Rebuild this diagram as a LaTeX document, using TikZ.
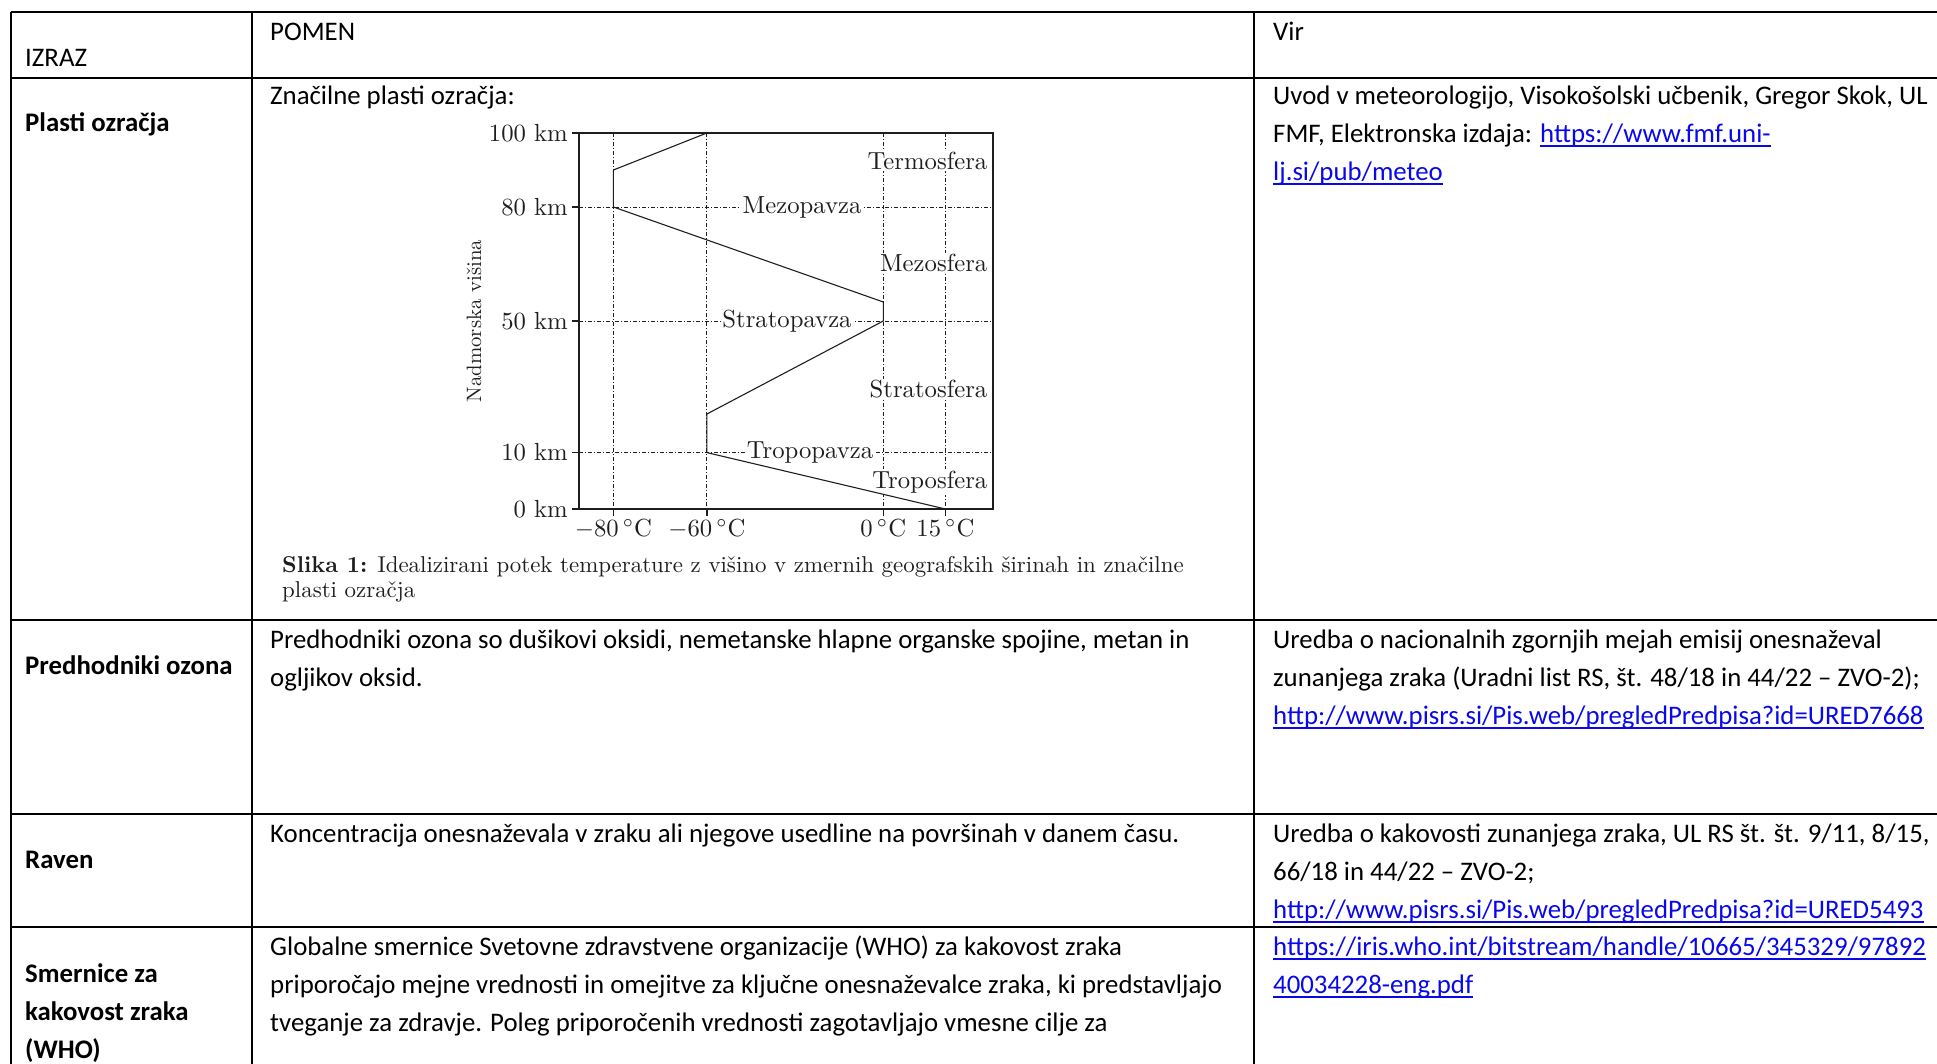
\documentclass[tikz,border=0pt]{standalone}
\usepackage{fontspec}
\newfontfamily\tabfont{Carlito}
\usepackage{xcolor}
\usepackage{graphicx}
\definecolor{linkblue}{RGB}{8,8,235}
\definecolor{chartgray}{RGB}{30,30,30}
\newcommand\lnk[1]{\leavevmode{\color{linkblue}\setbox0=\hbox{#1}\rlap{\rule[-0.17em]{\wd0}{0.065em}}\box0}}
\newcommand\cmt[2][2.47]{\scalebox{#1}{\fontsize{10}{12}\selectfont #2}}
\begin{document}
\begin{tikzpicture}[x=1pt,y=-1pt,
  tline/.style={line width=1.4pt, black},
  txt/.style={font=\tabfont\fontsize{26.8}{37.8}\selectfont, anchor=base west, inner sep=0pt, text=black},
  btxt/.style={font=\tabfont\bfseries\fontsize{26.8}{37.8}\selectfont, anchor=base west, inner sep=0pt, text=black},
  gridln/.style={line width=0.9pt, chartgray, dash pattern=on 4pt off 2pt on 1pt off 2pt},
  chartframe/.style={line width=1.3pt, chartgray},
  prof/.style={line width=1.1pt, chartgray, line join=round},
  clab/.style={fill=white, inner sep=1.5pt, text=chartgray},
  tlab/.style={inner sep=0pt, text=chartgray},
  captxt/.style={anchor=base west, inner sep=0pt, text=chartgray}
]
\useasboundingbox (0,0) rectangle (1937,1064);
% ---------------- table grid
\draw[tline] (11,12) -- (1937,12);
\draw[tline] (11,78) -- (1937,78);
\draw[tline] (11,620) -- (1937,620);
\draw[tline] (11,814) -- (1937,814);
\draw[tline] (11,927) -- (1937,927);
\draw[tline] (11,12) -- (11,1064);
\draw[tline] (252,12) -- (252,1064);
\draw[tline] (1254,12) -- (1254,1064);
% ---------------- header
\node[txt] (hizraz) at (25,66.5) {IZRAZ};
\node[txt] (hpomen) at (270,40.5) {POMEN};
\node[txt] (hvir) at (1273,40.5) {Vir};
% ---------------- row 1
\node[btxt] (l1) at (25,131.5) {Plasti ozračja};
\node[txt] (p1) at (270,104.5) {Značilne plasti ozračja:};
\node[txt] (v1a) at (1273,104.5) {Uvod v meteorologijo, Visokošolski učbenik, Gregor Skok, UL};
\node[txt] (v1b) at (1273,142.3) {FMF, Elektronska izdaja: \lnk{https://www.fmf.uni-}};
\node[txt] (v1c) at (1273,180.1) {\lnk{lj.si/pub/meteo}};
% ---------------- chart
\def\cL{579}\def\cR{993}\def\cT{133}\def\cB{509}
\def\xA{613.4}\def\xB{706.9}\def\xC{883.3}\def\xD{945.4}
\def\yE{207}\def\yF{321}\def\yG{452.6}
\foreach \xx in {\xA,\xB,\xC,\xD} \draw[gridln] (\xx,\cT) -- (\xx,\cB);
\foreach \yy in {\yE,\yF,\yG} \draw[gridln] (\cL,\yy) -- (\cR,\yy);
\node[clab, anchor=east] (termo) at (989,161) {\cmt{Termosfera}};
\node[clab] (mezop) at (802,\yE) {\cmt{Mezopavza}};
\node[clab, anchor=east] (mezos) at (989,263) {\cmt{Mezosfera}};
\node[clab] (stratop) at (787,\yF) {\cmt{Stratopavza}};
\node[clab, anchor=east] (stratos) at (989,389) {\cmt{Stratosfera}};
\node[clab] (tropop) at (810,\yG) {\cmt{Tropopavza}};
\node[clab, anchor=east] (tropos) at (989,482) {\cmt{Troposfera}};
\coordinate (q0) at (\xD,\cB);
\coordinate (q1) at (\xB,\yG);
\coordinate (q2) at (\xB,414);
\coordinate (q3) at (\xC,\yF);
\coordinate (q4) at (\xC,302);
\coordinate (q5) at (\xA,\yE);
\coordinate (q6) at (\xA,170);
\coordinate (q7) at (\xB,\cT);
\draw[prof] (q0) -- (q1) -- (q2) -- (q3) -- (q4) -- (q5) -- (q6) -- (q7);
\draw[chartframe] (\cL,\cT) rectangle (\cR,\cB);
\foreach \yy/\lab [count=\i] in {\cT/100 km,\yE/80 km,\yF/50 km,\yG/10 km,\cB/0 km}{
  \draw[chartframe] (572,\yy) -- (\cL,\yy);
  \node[tlab, anchor=east] (yl\i) at (568,\yy) {\cmt{\lab}};
}
\foreach \xx/\lab [count=\i] in {\xA/$-80\,^\circ$C,\xB/$-60\,^\circ$C,\xC/0\,$^\circ$C,\xD/15\,$^\circ$C}{
  \draw[chartframe] (\xx,\cB) -- (\xx,516);
  \node[tlab, anchor=north] (xl\i) at (\xx,519) {\cmt{\lab}};
}
\node[tlab, rotate=90] (ylab) at (474,321) {\cmt[2.08]{Nadmorska višina}};
\node[captxt] (cap1) at (282,572.5) {\cmt[2.29]{\textbf{Slika 1:} Idealizirani potek temperature z višino v zmernih geografskih širinah in značilne}};
\node[captxt] (cap2) at (282,597.5) {\cmt[2.29]{plasti ozračja}};
% ---------------- row 2
\node[btxt] (l2) at (25,674.5) {Predhodniki ozona};
\node[txt] (p2a) at (270,648.5) {Predhodniki ozona so dušikovi oksidi, nemetanske hlapne organske spojine, metan in};
\node[txt] (p2b) at (270,686.3) {ogljikov oksid.};
\node[txt] (v2a) at (1273,648.5) {Uredba o nacionalnih zgornjih mejah emisij onesnaževal};
\node[txt] (v2b) at (1273,686.3) {zunanjega zraka (Uradni list RS, št. 48/18 in 44/22 – ZVO-2);};
\node[txt] (v2c) at (1273,724.1) {\lnk{http://www.pisrs.si/Pis.web/pregledPredpisa?id=URED7668}};
% ---------------- row 3
\node[btxt] (l3) at (25,868.5) {Raven};
\node[txt] (p3a) at (270,842.5) {Koncentracija onesnaževala v zraku ali njegove usedline na površinah v danem času.};
\node[txt] (v3a) at (1273,842.5) {Uredba o kakovosti zunanjega zraka, UL RS št. št. 9/11, 8/15,};
\node[txt] (v3b) at (1273,880.3) {66/18 in 44/22 – ZVO-2;};
\node[txt] (v3c) at (1273,918.1) {\lnk{http://www.pisrs.si/Pis.web/pregledPredpisa?id=URED5493}};
% ---------------- row 4
\node[btxt] (l4a) at (25,982.5) {Smernice za};
\node[btxt] (l4b) at (25,1020.3) {kakovost zraka};
\node[btxt] (l4c) at (25,1058.1) {(WHO)};
\node[txt] (p4a) at (270,955.5) {Globalne smernice Svetovne zdravstvene organizacije (WHO) za kakovost zraka};
\node[txt] (p4b) at (270,993.3) {priporočajo mejne vrednosti in omejitve za ključne onesnaževalce zraka, ki predstavljajo};
\node[txt] (p4c) at (270,1031.1) {tveganje za zdravje. Poleg priporočenih vrednosti zagotavljajo vmesne cilje za};
\node[txt] (v4a) at (1273,955.5) {\lnk{https://iris.who.int/bitstream/handle/10665/345329/97892}};
\node[txt] (v4b) at (1273,993.3) {\lnk{40034228-eng.pdf}};
\end{tikzpicture}
\end{document}
